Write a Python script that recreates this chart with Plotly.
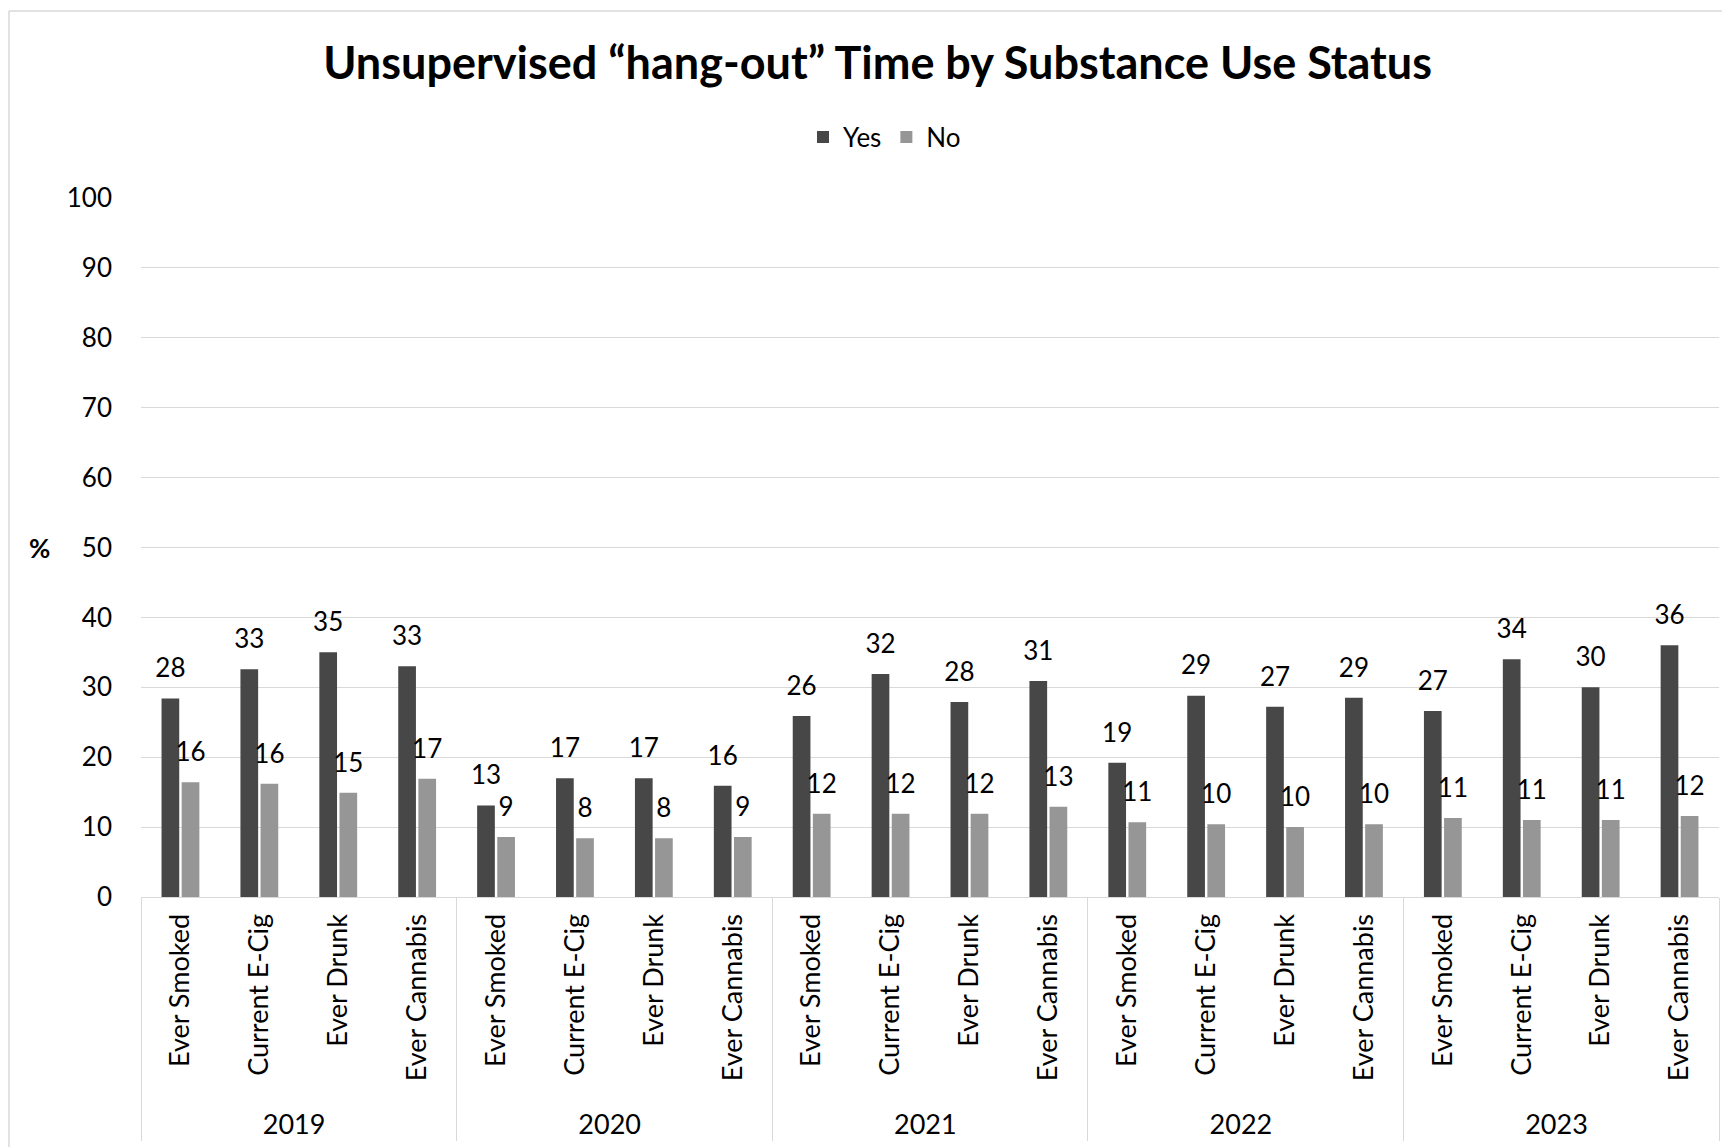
import plotly.graph_objects as go

years = ["2019", "2020", "2021", "2022", "2023"]
categories = ["Ever Smoked", "Current E-Cig", "Ever Drunk", "Ever Cannabis"]

yes_values = [28.4, 32.6, 35.0, 33.0,
              13.1, 17.0, 17.0, 15.9,
              25.9, 31.9, 27.9, 30.9,
              19.2, 28.8, 27.2, 28.5,
              26.6, 34.0, 30.0, 36.0]
no_values = [16.4, 16.2, 14.9, 16.9,
             8.6, 8.4, 8.4, 8.6,
             11.9, 11.9, 11.9, 12.9,
             10.7, 10.4, 10.0, 10.4,
             11.3, 11.0, 11.0, 11.6]

series_names = ["Yes", "No"]
series_colors = ["#474747", "#969696"]

x_years = [y for y in years for _ in categories]
x_cats = [c for _ in years for c in categories]

# page is drawn with an 8px body margin, so the figure is 8px smaller
W, H = 1722, 1139
L, R, T, B = 133, 11, 190, 250
FONT = "Lato"
GRID = "#d9d9d9"
GAP = 0.49

fig = go.Figure()
for name, vals, col in zip(series_names, [yes_values, no_values], series_colors):
    fig.add_trace(go.Bar(
        name=name, x=[x_years, x_cats], y=vals,
        marker=dict(color=col, line=dict(width=0)),
        hoverinfo="y",
    ))
# data labels, grouped to sit on top of the matching bars
for name, vals in zip(series_names, [yes_values, no_values]):
    fig.add_trace(go.Scatter(
        name=name + " labels", x=[x_years, x_cats], y=vals,
        mode="markers+text", texttemplate="%{y:.0f}", textposition="top center",
        marker=dict(size=22, color="rgba(0,0,0,0)"),
        textfont=dict(family=FONT, size=26, color="#000000"),
        showlegend=False, hoverinfo="skip", cliponaxis=False,
    ))

fig.update_layout(
    width=W, height=H,
    margin=dict(l=L, r=R, t=T, b=B, autoexpand=False),
    paper_bgcolor="white", plot_bgcolor="white",
    font=dict(family=FONT, size=26, color="#000000"),
    barmode="group", bargap=GAP, bargroupgap=0.12,
    scattermode="group", scattergap=GAP,
    title=dict(text="<b>Unsupervised “hang-out” Time by Substance Use Status</b>",
               x=0.505, xanchor="center", y=1 - 55 / H, yanchor="middle",
               font=dict(family=FONT, size=45, color="#000000")),
    legend=dict(orientation="h", xref="container", yref="container",
                x=0.509, xanchor="center", y=1 - 129 / H, yanchor="middle",
                font=dict(family=FONT, size=26), traceorder="normal",
                itemwidth=30, bgcolor="rgba(0,0,0,0)"),
    showlegend=True,
)

fig.update_yaxes(range=[0, 100], dtick=10, showgrid=True, gridcolor=GRID, gridwidth=1.3,
                 zeroline=False, showline=False, ticks="", ticklabelstandoff=28,
                 tickfont=dict(family=FONT, size=26))
fig.update_xaxes(type="multicategory", showline=True, linecolor=GRID, linewidth=1.3,
                 showdividers=True, dividercolor=GRID, dividerwidth=1.3,
                 tickangle=-90, ticks="", automargin=False, ticklabelstandoff=5,
                 tickprefix="\u00a0", showgrid=False,
                 tickfont=dict(family=FONT, size=27))

# axis title "%"
fig.add_annotation(text="<b>%</b>", xref="paper", yref="paper", x=0, y=0.5,
                   xshift=-102, xanchor="center", yanchor="middle", showarrow=False,
                   font=dict(family=FONT, size=26))

# outer chart border (top and left edges visible in reference)
pw, ph = W - L - R, H - T - B
bx, by = (1 - L) / pw, (H - B - 3) / ph
fig.add_shape(type="line", xref="paper", yref="paper", x0=bx, x1=1.2, y0=by, y1=by,
              line=dict(color=GRID, width=1.5), layer="below")
fig.add_shape(type="line", xref="paper", yref="paper", x0=bx, x1=bx, y0=by, y1=-0.5,
              line=dict(color=GRID, width=1.5), layer="below")

fig.write_html("out.html")
